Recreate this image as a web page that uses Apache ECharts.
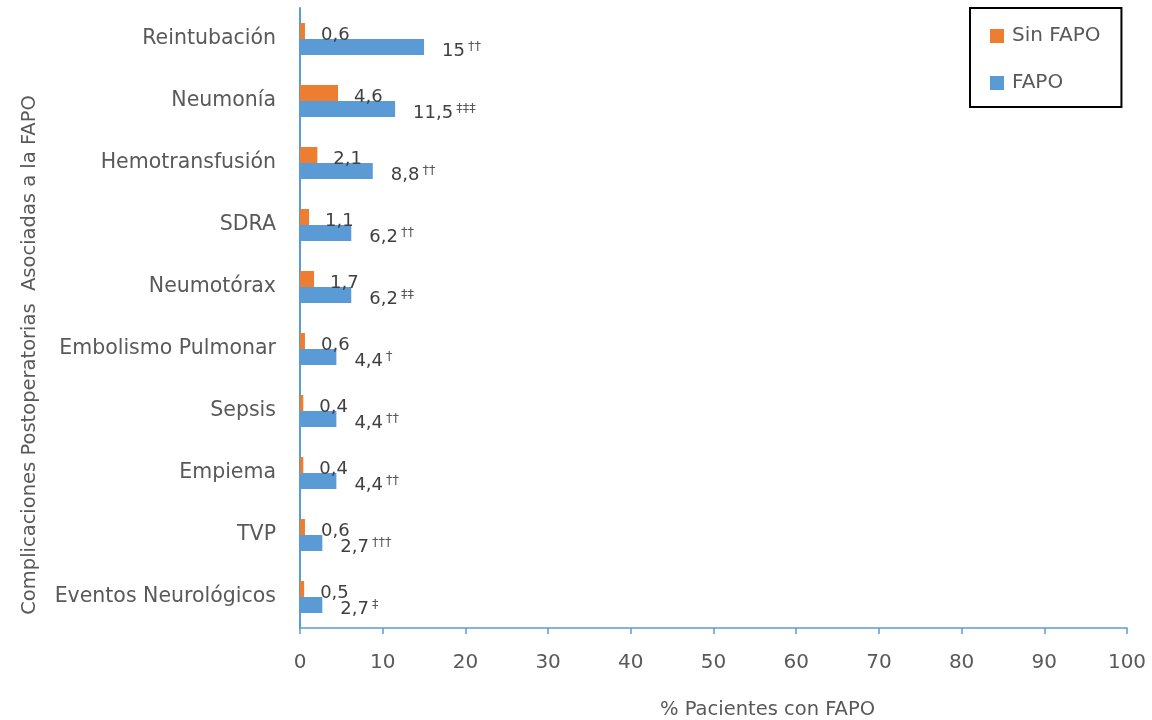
<!DOCTYPE html>
<html>
<head>
<meta charset="utf-8">
<script src="https://cdn.jsdelivr.net/npm/echarts@6/dist/echarts.min.js"></script>
<style>
  html, body { margin: 0; padding: 0; background: #fff; }
  #chart { width: 1152px; height: 720px; }
</style>
</head>
<body>
<div id="chart"></div>
<script>
// categorias (de arriba hacia abajo)
const categories = [
  'Reintubación', 'Neumonía', 'Hemotransfusión', 'SDRA', 'Neumotórax',
  'Embolismo Pulmonar', 'Sepsis', 'Empiema', 'TVP', 'Eventos Neurológicos'
];
const sinFapo = [0.6, 4.6, 2.1, 1.1, 1.7, 0.6, 0.4, 0.4, 0.6, 0.5];
const fapo = [15, 11.5, 8.8, 6.2, 6.2, 4.4, 4.4, 4.4, 2.7, 2.7];
// marcas de significancia junto al valor FAPO
const fapoMarks = ['††', '‡‡‡', '††', '††', '‡‡', '†', '††', '††', '†††', '‡'];
const xTicks = [0, 10, 20, 30, 40, 50, 60, 70, 80, 90, 100];

const FONT = 'DejaVu Sans';
const TXT = '#595959';
const LBL = '#404040';
const fmt = v => String(v).replace('.', ',');

const chart = echarts.init(document.getElementById('chart'));

const option = {
  animation: false,
  textStyle: { fontFamily: FONT, color: TXT },
  legend: {
    orient: 'vertical',
    left: 970,
    top: 8,
    padding: [17, 21, 13, 20],
    itemGap: 25,
    itemWidth: 14,
    itemHeight: 14,
    borderColor: '#000',
    borderWidth: 2,
    icon: 'rect',
    textStyle: { fontFamily: FONT, fontSize: 20, color: TXT, lineHeight: 22, padding: [0, 0, 0, 3] },
    data: ['Sin FAPO', 'FAPO']
  },
  grid: { left: 300, right: 25, top: 8, bottom: 92, outerBoundsMode: 'none' },
  xAxis: {
    type: 'value',
    min: xTicks[0],
    max: xTicks[xTicks.length - 1],
    interval: 10,
    name: '% Pacientes con FAPO',
    nameLocation: 'middle',
    nameGap: 72,
    nameTextStyle: { fontFamily: FONT, fontSize: 19.5, color: TXT, padding: [0, 0, 0, 108] },
    axisLine: { show: true, lineStyle: { color: '#5B9BD5', width: 1.5 } },
    axisTick: { show: true, length: 6, lineStyle: { color: '#5B9BD5', width: 1.5 } },
    axisLabel: { fontFamily: FONT, fontSize: 20, color: TXT, margin: 25 },
    splitLine: { show: false }
  },
  yAxis: {
    type: 'category',
    inverse: true,
    data: categories,
    name: 'Complicaciones Postoperatorias  Asociadas a la FAPO',
    nameLocation: 'middle',
    nameGap: 260,
    nameTextStyle: { fontFamily: FONT, fontSize: 19.5, color: TXT, padding: [0, 74, 0, 0] },
    axisLine: { show: true, lineStyle: { color: '#5B9BD5', width: 2 } },
    axisTick: { show: false },
    axisLabel: { fontFamily: FONT, fontSize: 20.5, color: TXT, margin: 24 }
  },
  series: [
    {
      name: 'Sin FAPO',
      type: 'bar',
      data: sinFapo,
      barWidth: 16,
      barGap: '0%',
      itemStyle: { color: '#ED7D31' },
      label: {
        show: true,
        position: 'right',
        distance: 16,
        offset: [0, 4],
        fontFamily: FONT,
        fontSize: 18,
        color: LBL,
        formatter: p => fmt(p.value)
      }
    },
    {
      name: 'FAPO',
      type: 'bar',
      data: fapo,
      barWidth: 16,
      barGap: '0%',
      itemStyle: { color: '#5B9BD5' },
      label: {
        show: true,
        position: 'right',
        distance: 18,
        offset: [0, 4],
        fontFamily: FONT,
        color: LBL,
        formatter: p => '{v|' + fmt(p.value) + '}{s|' + fapoMarks[p.dataIndex] + '}',
        rich: {
          v: { fontFamily: FONT, fontSize: 18, color: LBL },
          s: { fontFamily: FONT, fontSize: 13, color: '#595959', padding: [0, 0, 9, 3] }
        }
      }
    }
  ]
};

chart.setOption(option);
</script>
</body>
</html>
